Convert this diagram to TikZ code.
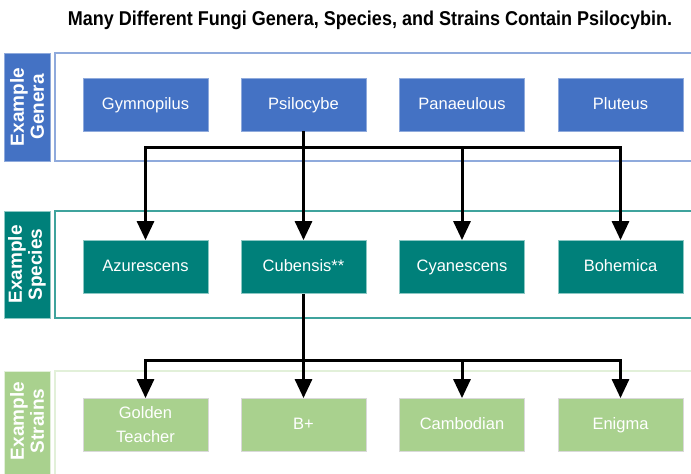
\documentclass[tikz,border=0pt]{standalone}
\usepackage{fontspec}
\setmainfont{Liberation Sans}
\usetikzlibrary{arrows.meta}
\definecolor{genblue}{HTML}{4472C4}
\definecolor{genline}{HTML}{8FAADC}
\definecolor{spteal}{HTML}{00807A}
\definecolor{spline}{HTML}{3FA39D}
\definecolor{stgreen}{HTML}{A9D18E}
\definecolor{stline}{HTML}{E2F0D9}
\tikzset{
  boxbase/.style={rectangle, minimum width=125pt, minimum height=53pt, inner sep=0pt,
    text=white, font=\fontsize{16.5}{24}\selectfont, align=center, line width=0.8pt,
    text height=12pt, text depth=3pt},
  twoline/.style={text height=, text depth=},
  genbox/.style={boxbase, fill=genblue, draw=genline},
  spbox/.style={boxbase, fill=spteal, draw=spline!60!white},
  stbox/.style={boxbase, fill=stgreen, draw=black!15},
  rowlabel/.style={rotate=90, text=white, font=\fontsize{19}{20}\selectfont\bfseries, align=center, inner sep=0pt},
  conn/.style={line width=3pt, line join=miter},
  arr/.style={conn, -{Triangle[length=19pt,width=17pt]}},
}
\begin{document}
\begin{tikzpicture}[x=1pt,y=-1pt]
\useasboundingbox (0,0) rectangle (691,474);
\clip (0,0) rectangle (691,474);
% title
\node (title) at (370,20) {\scalebox{0.9}[1]{\fontsize{20}{20}\selectfont\bfseries Many Different Fungi Genera, Species, and Strains Contain Psilocybin.}};
% frames
\draw[genline, line width=1.2pt] (55,53) rectangle (720,161);
\draw[spline, line width=1.2pt] (55,211) rectangle (720,318);
\draw[stline, line width=1.4pt] (55,371) rectangle (720,500);
% label boxes
\draw[fill=genblue, draw=genline, line width=1pt] (4,53) rectangle (50,161);
\draw[fill=spteal, draw=spline!60!white, line width=1pt] (4,211) rectangle (50,318);
\draw[fill=stgreen, draw=stline, line width=1pt] (4,371) rectangle (50,500);
\node[rowlabel] (lgen) at (27,107) {Example\\Genera};
\node[rowlabel] (lsp) at (27,264.5) {Example\\Species};
\node[rowlabel] (lst) at (27,421) {Example\\Strains};
% genera
\node[genbox] (gym) at (145.5,104.5) {Gymnopilus};
\node[genbox] (psi) at (303.5,104.5) {Psilocybe};
\node[genbox] (pan) at (462,104.5) {Panaeulous};
\node[genbox] (plu) at (620.5,104.5) {Pluteus};
% species
\node[spbox] (azu) at (145.5,267) {Azurescens};
\node[spbox] (cub) at (303.5,267) {Cubensis**};
\node[spbox] (cya) at (462,267) {Cyanescens};
\node[spbox] (boh) at (620.5,267) {Bohemica};
% strains
\node[stbox, twoline] (gol) at (145.5,425) {Golden\\Teacher};
\node[stbox] (bpl) at (303.5,425) {B+};
\node[stbox] (cam) at (462,425) {Cambodian};
\node[stbox] (eni) at (620.5,425) {Enigma};
% connectors
\coordinate (j1) at (303.5,147);
\coordinate (j2) at (303.5,360);
\draw[conn] (psi.south) -- (j1);
\draw[arr] (j1) -| (azu.north);
\draw[arr] (j1) -- (cub.north);
\draw[arr] (j1) -| (cya.north);
\draw[arr] (j1) -| (boh.north);
\draw[conn] (cub.south) -- (j2);
\draw[arr] (j2) -| (gol.north);
\draw[arr] (j2) -- (bpl.north);
\draw[arr] (j2) -| (cam.north);
\draw[arr] (j2) -| (eni.north);
\end{tikzpicture}
\end{document}
